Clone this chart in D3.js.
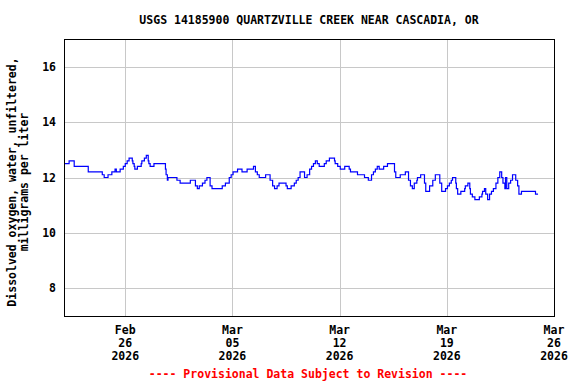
<!DOCTYPE html>
<html>
<head>
<meta charset="utf-8">
<script src="https://cdn.jsdelivr.net/npm/d3@7"></script>
<style>
  body { margin: 0; background: #fff; }
  text { font-family: "DejaVu Sans Mono", "Liberation Mono", monospace; font-weight: bold; }
</style>
</head>
<body>
<script>
// chart text
const title = 'USGS 14185900 QUARTZVILLE CREEK NEAR CASCADIA, OR';
const yLabel = ['Dissolved oxygen, water, unfiltered,', 'milligrams per liter'];
const footer = '---- Provisional Data Subject to Revision ----';

// axis ticks
const yTicks = [8, 10, 12, 14, 16];
const xTicks = ['2026-02-26', '2026-03-05', '2026-03-12', '2026-03-19', '2026-03-26'];

// readings: hours since 2026-02-22 00:00, value held until the next change (mg/L)
const startDate = '2026-02-22';
const hours = [
  0, 8, 16, 38, 60, 63, 69, 75, 80, 82, 88, 93, 96, 99, 102, 107, 108, 110, 111, 115,
  121, 122, 126, 129, 132, 133, 135, 141, 159, 160, 162, 163, 177, 182, 198, 206, 209, 212, 217, 221,
  224, 229, 232, 248, 253, 259, 262, 265, 272, 279, 287, 297, 300, 303, 306, 316, 323, 327, 330, 334,
  337, 348, 350, 356, 361, 364, 367, 370, 377, 381, 385, 388, 391, 394, 397, 400, 408, 411, 416, 424,
  425, 429, 433, 440, 447, 449, 460, 471, 477, 482, 485, 488, 491, 494, 501, 507, 518, 520, 527, 535,
  540, 543, 546, 549, 553, 554, 559, 565, 567, 573, 578, 582, 589, 592, 598, 601, 604, 607, 609, 614,
  615, 617, 622, 628, 629, 633, 636, 637, 640, 644, 651, 655, 656, 659, 661, 664, 667, 670, 673, 677,
  680, 683, 686, 688, 691, 692, 694, 697, 700, 703, 708, 711, 713, 717, 739, 743
];
const oxygen = [
  12.5, 12.6, 12.4, 12.2, 12.1, 12.0, 12.1, 12.2, 12.3, 12.2, 12.3, 12.4, 12.5, 12.6, 12.7, 12.6, 12.5, 12.4, 12.3, 12.4,
  12.5, 12.6, 12.7, 12.8, 12.6, 12.5, 12.4, 12.5, 12.3, 12.1, 11.9, 12.0, 11.9, 11.8, 11.9, 11.7, 11.6, 11.7, 11.8, 11.9,
  12.0, 11.7, 11.6, 11.7, 11.8, 12.0, 12.1, 12.2, 12.3, 12.2, 12.3, 12.4, 12.2, 12.1, 12.0, 12.1, 11.9, 11.7, 11.6, 11.7,
  11.8, 11.7, 11.6, 11.7, 11.8, 11.9, 12.0, 12.2, 12.0, 12.1, 12.3, 12.4, 12.5, 12.6, 12.5, 12.4, 12.5, 12.6, 12.7, 12.6,
  12.5, 12.4, 12.3, 12.4, 12.3, 12.2, 12.1, 12.0, 11.9, 12.1, 12.2, 12.3, 12.4, 12.3, 12.4, 12.5, 12.2, 12.0, 12.1, 12.2,
  11.9, 11.7, 11.6, 11.8, 11.9, 12.0, 12.1, 11.8, 11.5, 11.7, 11.9, 12.1, 11.8, 11.5, 11.6, 11.7, 11.8, 11.9, 12.0, 11.8,
  11.6, 11.4, 11.5, 11.6, 11.7, 11.8, 11.6, 11.4, 11.3, 11.2, 11.3, 11.4, 11.5, 11.6, 11.4, 11.2, 11.4, 11.5, 11.6, 11.8,
  12.0, 12.2, 12.0, 11.8, 11.6, 12.0, 11.6, 11.8, 11.9, 12.1, 11.9, 11.7, 11.4, 11.5, 11.4, 11.4
];

const width = 576, height = 384;
const margin = { top: 39, right: 22, bottom: 68, left: 64 };

const parseDay = d3.timeParse('%Y-%m-%d');
const t0 = parseDay(startDate);
const data = hours.map((h, i) => ({ date: d3.timeHour.offset(t0, h), value: oxygen[i] }));

const x = d3.scaleTime()
  .domain([t0, parseDay('2026-03-26')])
  .range([margin.left, width - margin.right]);
const y = d3.scaleLinear()
  .domain([7, 17])
  .range([height - margin.bottom, margin.top]);

const svg = d3.select('body').append('svg')
  .attr('width', width)
  .attr('height', height);

// gridlines
svg.append('g')
  .selectAll('line.h')
  .data(yTicks)
  .join('line')
  .attr('x1', margin.left).attr('x2', width - margin.right)
  .attr('y1', d => Math.round(y(d)) + 0.5).attr('y2', d => Math.round(y(d)) + 0.5)
  .attr('stroke', '#c8c8c8');

svg.append('g')
  .selectAll('line.v')
  .data(xTicks.map(parseDay))
  .join('line')
  .attr('x1', d => Math.round(x(d)) + 0.5).attr('x2', d => Math.round(x(d)) + 0.5)
  .attr('y1', margin.top).attr('y2', height - margin.bottom)
  .attr('stroke', '#c8c8c8');

// data line
const line = d3.line()
  .x(d => x(d.date))
  .y(d => y(d.value))
  .curve(d3.curveStepAfter);

svg.append('path')
  .datum(data)
  .attr('fill', 'none')
  .attr('stroke', '#0000ff')
  .attr('stroke-width', 1.2)
  .attr('d', line);

// frame
svg.append('rect')
  .attr('x', margin.left + 0.5).attr('y', margin.top + 0.5)
  .attr('width', width - margin.left - margin.right)
  .attr('height', height - margin.bottom - margin.top)
  .attr('fill', 'none')
  .attr('stroke', '#000');

// y axis labels
svg.append('g')
  .selectAll('text')
  .data(yTicks)
  .join('text')
  .attr('x', 56)
  .attr('y', d => y(d))
  .attr('dy', '0.35em')
  .attr('text-anchor', 'end')
  .attr('font-size', 11.5)
  .text(d => d);

// x axis labels (month / day / year)
const fmt = [d3.timeFormat('%b'), d3.timeFormat('%d'), d3.timeFormat('%Y')];
const xl = svg.append('g')
  .selectAll('text')
  .data(xTicks.map(parseDay))
  .join('text')
  .attr('text-anchor', 'middle')
  .attr('font-size', 11.5);
fmt.forEach((f, i) => {
  xl.append('tspan')
    .attr('x', d => x(d))
    .attr('y', 334 + i * 13)
    .text(d => f(d));
});

// y title
svg.append('text')
  .attr('transform', 'translate(16,182) rotate(-90)')
  .attr('text-anchor', 'middle')
  .attr('font-size', 11.5)
  .selectAll('tspan')
  .data(yLabel)
  .join('tspan')
  .attr('x', 0)
  .attr('y', (d, i) => i * 12)
  .text(d => d);

// title
svg.append('text')
  .attr('x', 309).attr('y', 24)
  .attr('text-anchor', 'middle')
  .attr('font-size', 11.5)
  .text(title);

// footer
svg.append('text')
  .attr('x', 308).attr('y', 378)
  .attr('text-anchor', 'middle')
  .attr('font-size', 11.5)
  .attr('fill', '#ff0000')
  .text(footer);
</script>
</body>
</html>
